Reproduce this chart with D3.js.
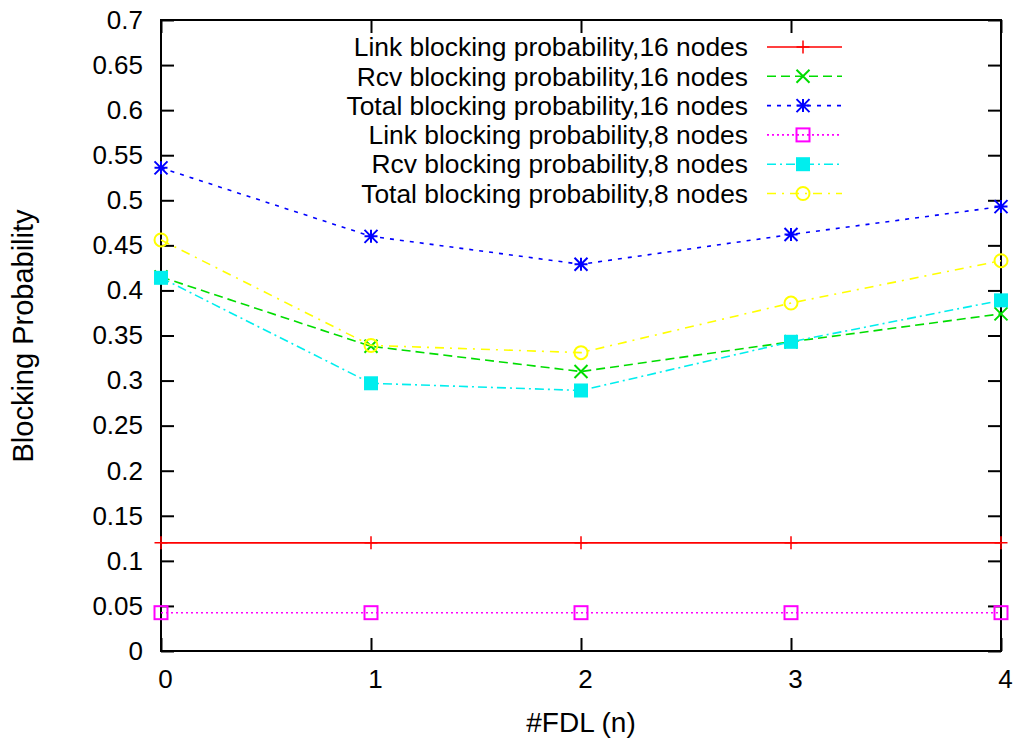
<!DOCTYPE html>
<html>
<head>
<meta charset="utf-8">
<script src="https://cdn.jsdelivr.net/npm/d3@7"></script>
<style>
  body { margin: 0; background: #fff; }
  svg { font-family: "Liberation Sans", Arial, sans-serif; }
</style>
</head>
<body>
<svg id="chart" width="1013" height="740"></svg>
<script>
// chart values
const fdl = [0, 1, 2, 3, 4];
const yTicks = [0, 0.05, 0.1, 0.15, 0.2, 0.25, 0.3, 0.35, 0.4, 0.45, 0.5, 0.55, 0.6, 0.65, 0.7];

const link16 = [0.12, 0.12, 0.12, 0.12, 0.12];
const rcv16 = [0.415, 0.338, 0.310, 0.343, 0.374];
const total16 = [0.536, 0.460, 0.429, 0.462, 0.493];
const link8 = [0.0425, 0.0425, 0.0425, 0.0425, 0.0425];
const rcv8 = [0.414, 0.297, 0.289, 0.343, 0.389];
const total8 = [0.456, 0.339, 0.331, 0.386, 0.433];

const series = [
  { name: "Link blocking probability,16 nodes", values: link16, color: "#ff0000", dash: null, marker: "plus" },
  { name: "Rcv blocking probability,16 nodes", values: rcv16, color: "#00dd00", dash: "9,5", marker: "cross" },
  { name: "Total blocking probability,16 nodes", values: total16, color: "#0000ff", dash: "4,6", marker: "star" },
  { name: "Link blocking probability,8 nodes", values: link8, color: "#ff00ff", dash: "2,3", marker: "square" },
  { name: "Rcv blocking probability,8 nodes", values: rcv8, color: "#00eeee", dash: "9,4,2,4", marker: "fsquare" },
  { name: "Total blocking probability,8 nodes", values: total8, color: "#ffff00", dash: "9,6,2,6", marker: "circle" }
];

const svg = d3.select("#chart");
const mLeft = 161, mRight = 1001, mTop = 20, mBottom = 651;

const x = d3.scaleLinear().domain([0, 4]).range([mLeft, mRight]);
const y = d3.scaleLinear().domain([0, 0.7]).range([mBottom, mTop]);

const tickLen = 13;

// axes, ticks pointing inward like gnuplot
const xAxis = svg.append("g")
  .attr("transform", `translate(0,${mBottom})`)
  .call(d3.axisBottom(x).tickValues(fdl).tickSize(-tickLen).tickPadding(19).tickFormat(d3.format("d")));
xAxis.selectAll(".tick text").attr("dx", 4);
svg.append("g")
  .attr("transform", `translate(0,${mTop})`)
  .call(d3.axisTop(x).tickValues(fdl).tickSize(-tickLen).tickFormat(""));
svg.append("g")
  .attr("transform", `translate(${mLeft},0)`)
  .call(d3.axisLeft(y).tickValues(yTicks).tickSize(-tickLen).tickPadding(18).tickFormat(d => String(+d.toFixed(2))));
svg.append("g")
  .attr("transform", `translate(${mRight},0)`)
  .call(d3.axisRight(y).tickValues(yTicks).tickSize(-tickLen).tickFormat(""));

svg.selectAll(".domain").remove();
svg.selectAll(".tick line").attr("stroke", "#000").attr("stroke-width", 2);
svg.selectAll(".tick text").attr("font-size", 26).attr("fill", "#000");

// frame
svg.append("rect")
  .attr("x", mLeft).attr("y", mTop)
  .attr("width", mRight - mLeft).attr("height", mBottom - mTop)
  .attr("fill", "none").attr("stroke", "#000").attr("stroke-width", 2);

// axis titles
svg.append("text")
  .attr("x", 581).attr("y", 732)
  .attr("text-anchor", "middle").attr("font-size", 28)
  .text("#FDL (n)");
svg.append("text")
  .attr("transform", `translate(33,336) rotate(-90)`)
  .attr("text-anchor", "middle").attr("font-size", 29)
  .text("Blocking Probability");

function drawMarker(g, type, cx, cy, color) {
  const s = 6.5;
  if (type === "plus") {
    g.append("path").attr("d", `M${cx - s},${cy}H${cx + s}M${cx},${cy - s}V${cy + s}`)
      .attr("stroke", color).attr("stroke-width", 1.5);
  } else if (type === "cross") {
    g.append("path").attr("d", `M${cx - s},${cy - s}L${cx + s},${cy + s}M${cx - s},${cy + s}L${cx + s},${cy - s}`)
      .attr("stroke", color).attr("stroke-width", 2);
  } else if (type === "star") {
    g.append("path").attr("d", `M${cx - s},${cy}H${cx + s}M${cx},${cy - s}V${cy + s}M${cx - s},${cy - s}L${cx + s},${cy + s}M${cx - s},${cy + s}L${cx + s},${cy - s}`)
      .attr("stroke", color).attr("stroke-width", 2);
  } else if (type === "square") {
    g.append("rect").attr("x", cx - s).attr("y", cy - s).attr("width", 2 * s).attr("height", 2 * s)
      .attr("fill", "none").attr("stroke", color).attr("stroke-width", 2);
  } else if (type === "fsquare") {
    g.append("rect").attr("x", cx - 7).attr("y", cy - 7).attr("width", 14).attr("height", 14)
      .attr("fill", color);
  } else if (type === "circle") {
    g.append("circle").attr("cx", cx).attr("cy", cy).attr("r", s)
      .attr("fill", "none").attr("stroke", color).attr("stroke-width", 2);
  }
}

const line = d3.line().x((d, i) => x(fdl[i])).y(d => y(d));

series.forEach(s => {
  const g = svg.append("g");
  g.append("path")
    .attr("d", line(s.values))
    .attr("fill", "none")
    .attr("stroke", s.color)
    .attr("stroke-width", 1.6)
    .attr("stroke-dasharray", s.dash);
  s.values.forEach((v, i) => drawMarker(g, s.marker, x(fdl[i]), y(v), s.color));
});

// legend
const legend = svg.append("g");
series.forEach((s, i) => {
  const ly = 47 + i * 29.3;
  legend.append("text")
    .attr("x", 748).attr("y", ly).attr("dy", "0.35em")
    .attr("text-anchor", "end").attr("font-size", 26.4)
    .text(s.name);
  legend.append("line")
    .attr("x1", 767).attr("x2", 842).attr("y1", ly).attr("y2", ly)
    .attr("stroke", s.color).attr("stroke-width", 1.6)
    .attr("stroke-dasharray", s.dash);
  drawMarker(legend, s.marker, 803, ly, s.color);
});
</script>
</body>
</html>
